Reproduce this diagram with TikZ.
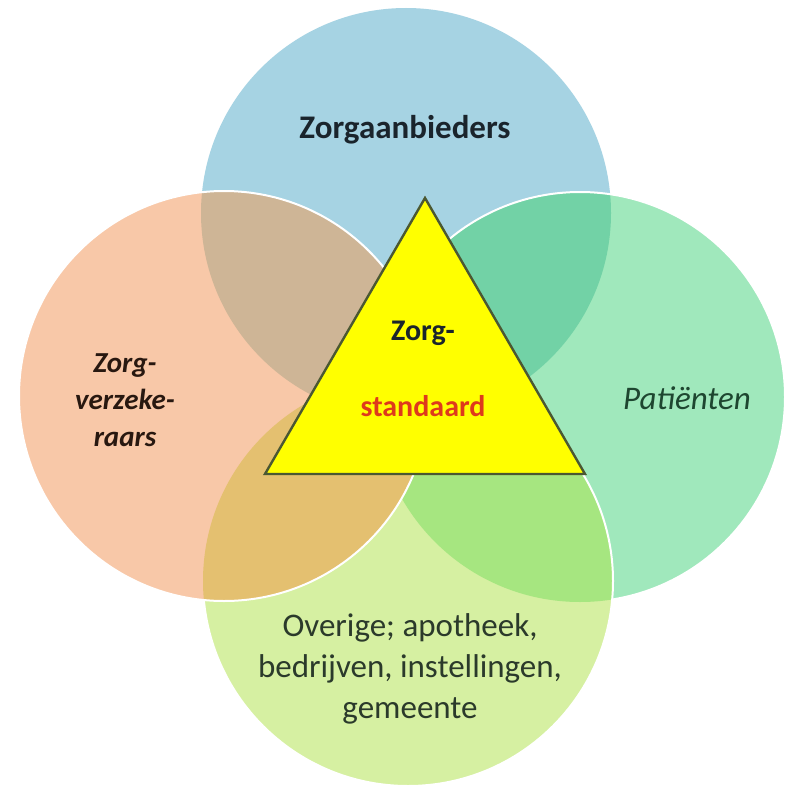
\documentclass[tikz,border=0pt]{standalone}
\usepackage{fontspec}
\setmainfont{Carlito}
\definecolor{cTop}{RGB}{166,211,227}
\definecolor{cLeft}{RGB}{248,200,168}
\definecolor{cRight}{RGB}{160,232,188}
\definecolor{cBot}{RGB}{214,240,162}
\definecolor{cTL}{RGB}{206,181,150}
\definecolor{cTR}{RGB}{114,210,166}
\definecolor{cLB}{RGB}{228,192,112}
\definecolor{cRB}{RGB}{166,230,128}
\definecolor{triLine}{RGB}{75,88,50}
\definecolor{triFill}{RGB}{255,255,0}
\definecolor{txtDark}{RGB}{26,36,44}
\definecolor{txtLeft}{RGB}{40,24,16}
\definecolor{txtRight}{RGB}{30,70,48}
\definecolor{txtBot}{RGB}{43,58,43}
\definecolor{txtRed}{RGB}{222,58,28}
\begin{document}
\begin{tikzpicture}[x=1pt,y=-1pt,
  rim/.style={draw=white,line width=2pt},
  label/.style={align=center,inner sep=0pt},
  tri/.style={fill=triFill,draw=triLine,line width=2.4pt,line join=miter}]
\fill[white] (0,0) rectangle (786,789);
\useasboundingbox (0,0) rectangle (786,789);
\coordinate (T) at (406,213);
\coordinate (L) at (224,396);
\coordinate (R) at (580,397);
\coordinate (B) at (408,581);
% top circle
\fill[cTop] (T) circle (205pt);
% right circle
\fill[cRight] (R) circle (205pt);
\begin{scope}\clip (T) circle (205pt); \fill[cTR] (R) circle (205pt);\end{scope}
\draw[rim] (R) circle (205pt);
% bottom circle
\fill[cBot] (B) circle (205pt);
\begin{scope}\clip (R) circle (205pt); \fill[cRB] (B) circle (205pt);\end{scope}
\draw[rim] (B) circle (205pt);
% left circle
\fill[cLeft] (L) circle (205pt);
\begin{scope}\clip (T) circle (205pt); \fill[cTL] (L) circle (205pt);\end{scope}
\begin{scope}\clip (B) circle (205pt); \fill[cLB] (L) circle (205pt);\end{scope}
\draw[rim] (L) circle (205pt);
% triangle
\draw[tri] (425,198) -- (265,474) -- (585,474) -- cycle;
% labels
\node[label,text=txtDark,font=\fontsize{33}{38}\selectfont\bfseries] (tTop) at (405,130) {Zorgaanbieders};
\node[label,text=txtLeft,font=\fontsize{29}{37}\selectfont\bfseries\itshape] (tLeft) at (125,400) {Zorg-\\verzeke-\\raars};
\node[label,text=txtRight,font=\fontsize{33}{38}\selectfont\itshape] (tRight) at (687,398) {Patiënten};
\node[label,text=txtBot,font=\fontsize{33}{41}\selectfont] (tBot) at (410,669) {Overige; apotheek,\\bedrijven, instellingen,\\gemeente};
\node[label,text=txtDark,font=\fontsize{30}{34}\selectfont\bfseries] (tZorg) at (423,333) {Zorg-};
\node[label,text=txtRed,font=\fontsize{30}{34}\selectfont\bfseries] (tStd) at (423,406) {standaard};
\end{tikzpicture}
\end{document}
